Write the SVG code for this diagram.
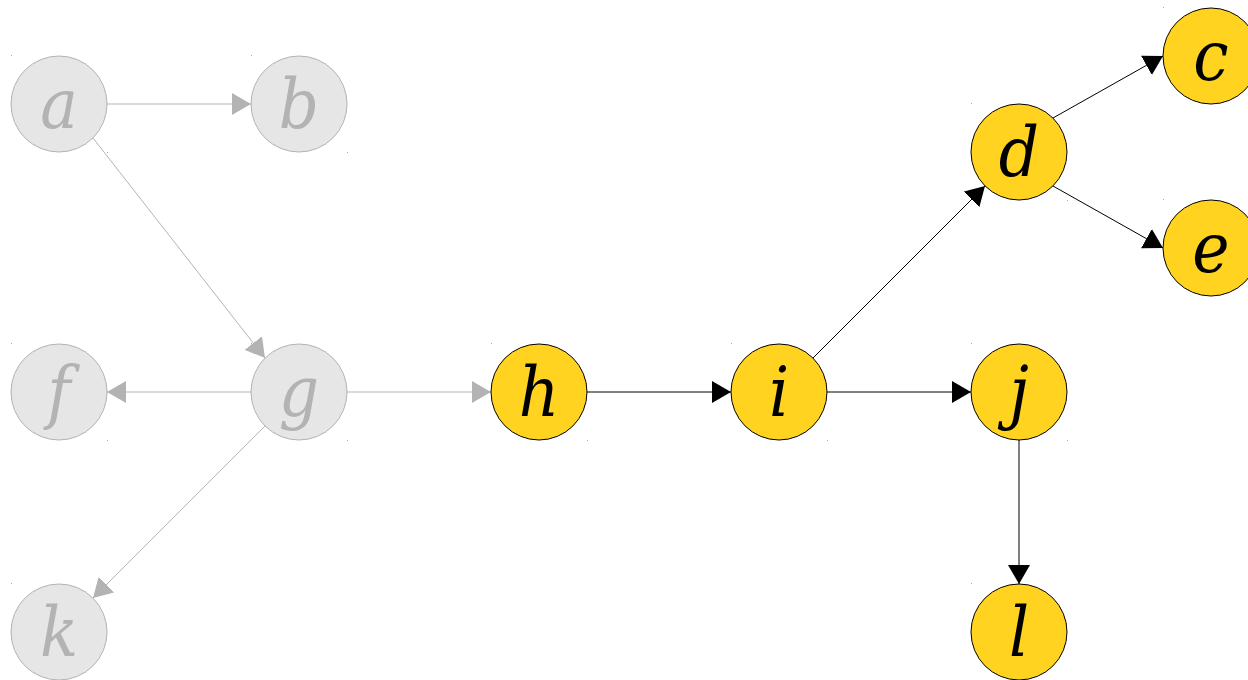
<svg xmlns="http://www.w3.org/2000/svg" width="1248" height="680" viewBox="0 0 1248 680">
<defs>
<marker id="ag" markerUnits="userSpaceOnUse" markerWidth="19" markerHeight="22" refX="19" refY="11" orient="auto" viewBox="0 0 19 22"><path d="M0,0 L19,11 L0,22 z" fill="#b3b3b3"/></marker>
<marker id="ab" markerUnits="userSpaceOnUse" markerWidth="19" markerHeight="22" refX="19" refY="11" orient="auto" viewBox="0 0 19 22"><path d="M0,0 L19,11 L0,22 z" fill="#000"/></marker>
</defs>
<style>
.gn circle{fill:#e6e6e6;stroke:#b3b3b3;stroke-width:1}
.gn text{fill:#b3b3b3}
.yn circle{fill:#ffd320;stroke:#000;stroke-width:1}
.yn text{fill:#000}
text{font-family:"DejaVu Serif",serif;font-stretch:condensed;font-style:italic;font-size:70px;text-anchor:middle}
.eg{stroke:#b3b3b3;stroke-width:1;fill:none;marker-end:url(#ag)}
.eb{stroke:#000;stroke-width:1;fill:none;marker-end:url(#ab)}
.dot{fill:#aaa}
</style>
<rect width="1248" height="680" fill="#fff"/>
<g id="connectors">
<line class="eg" x1="107" y1="104" x2="251" y2="104"/>
<line class="eg" x1="93" y1="138" x2="265" y2="358"/>
<line class="eg" x1="251" y1="392" x2="107" y2="392"/>
<line class="eg" x1="347" y1="392" x2="491" y2="392"/>
<line class="eg" x1="265" y1="426" x2="93" y2="598"/>
<line class="eb" x1="587" y1="392" x2="731" y2="392"/>
<line class="eb" x1="827" y1="392" x2="971" y2="392"/>
<line class="eb" x1="813" y1="358" x2="985" y2="186"/>
<line class="eb" x1="1053" y1="118" x2="1163" y2="56"/>
<line class="eb" x1="1053" y1="186" x2="1163" y2="248"/>
<line class="eb" x1="1019" y1="440" x2="1019" y2="584"/>
</g>
<g id="node-a" class="gn"><circle cx="59" cy="104" r="48"/><text x="59" y="128">a</text><rect class="dot" x="11" y="55" width="1" height="1"/><rect class="dot" x="107" y="152" width="1" height="1"/></g>
<g id="node-b" class="gn"><circle cx="299" cy="104" r="48"/><text x="299" y="128">b</text><rect class="dot" x="251" y="55" width="1" height="1"/><rect class="dot" x="347" y="152" width="1" height="1"/></g>
<g id="node-f" class="gn"><circle cx="59" cy="392" r="48"/><text x="59" y="416">f</text><rect class="dot" x="11" y="343" width="1" height="1"/><rect class="dot" x="107" y="440" width="1" height="1"/></g>
<g id="node-g" class="gn"><circle cx="299" cy="392" r="48"/><text x="299" y="416">g</text><rect class="dot" x="251" y="343" width="1" height="1"/><rect class="dot" x="347" y="440" width="1" height="1"/></g>
<g id="node-k" class="gn"><circle cx="59" cy="632" r="48"/><text x="59" y="656">k</text><rect class="dot" x="11" y="583" width="1" height="1"/></g>
<g id="node-h" class="yn"><circle cx="539" cy="392" r="48"/><text x="539" y="416">h</text><rect class="dot" x="491" y="343" width="1" height="1"/><rect class="dot" x="587" y="440" width="1" height="1"/></g>
<g id="node-i" class="yn"><circle cx="779" cy="392" r="48"/><text x="779" y="416">i</text><rect class="dot" x="731" y="343" width="1" height="1"/><rect class="dot" x="827" y="440" width="1" height="1"/></g>
<g id="node-j" class="yn"><circle cx="1019" cy="392" r="48"/><text x="1019" y="416">j</text><rect class="dot" x="971" y="343" width="1" height="1"/><rect class="dot" x="1067" y="440" width="1" height="1"/></g>
<g id="node-l" class="yn"><circle cx="1019" cy="632" r="48"/><text x="1019" y="656">l</text><rect class="dot" x="971" y="583" width="1" height="1"/></g>
<g id="node-d" class="yn"><circle cx="1019" cy="152" r="48"/><text x="1019" y="176">d</text><rect class="dot" x="971" y="103" width="1" height="1"/><rect class="dot" x="1067" y="200" width="1" height="1"/></g>
<g id="node-c" class="yn"><circle cx="1211" cy="56" r="48"/><text x="1211" y="80">c</text><rect class="dot" x="1163" y="7" width="1" height="1"/></g>
<g id="node-e" class="yn"><circle cx="1211" cy="248" r="48"/><text x="1211" y="272">e</text><rect class="dot" x="1163" y="199" width="1" height="1"/></g>
</svg>
